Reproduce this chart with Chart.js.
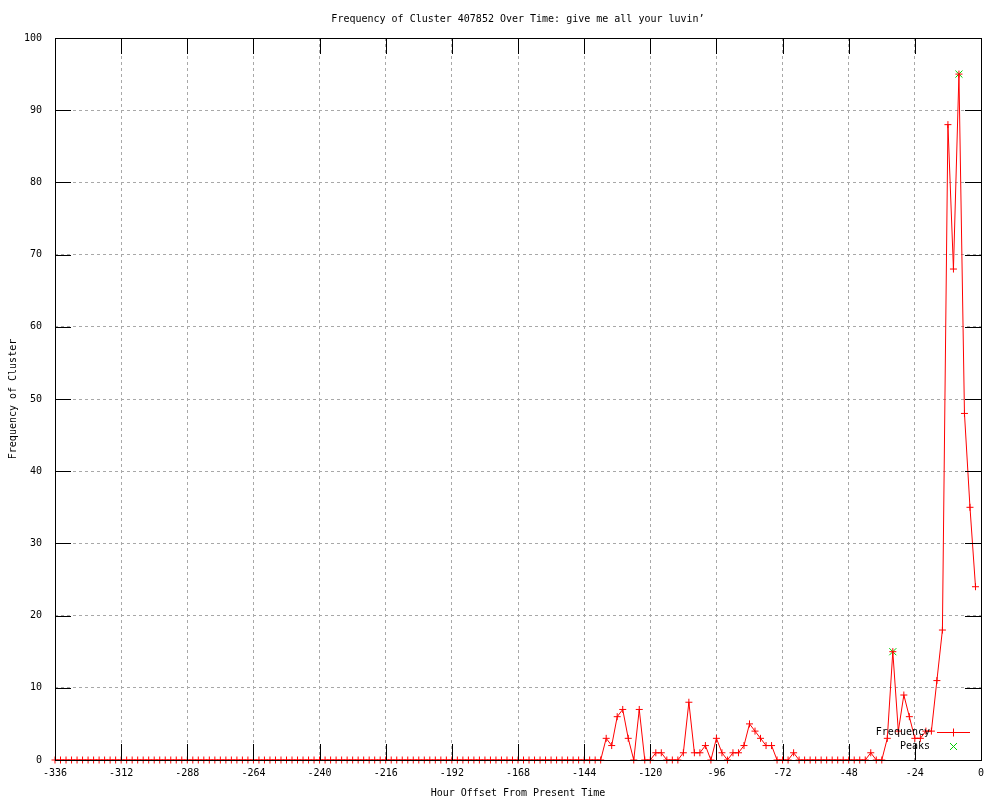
<!DOCTYPE html>
<html>
<head>
<meta charset="utf-8">
<title>Frequency of Cluster 407852</title>
<script src="https://cdn.jsdelivr.net/npm/chart.js@4/dist/chart.umd.min.js"></script>
<style>
  html, body { margin: 0; padding: 0; background: #fff; }
  canvas { display: block; }
</style>
</head>
<body>
<canvas id="myChart" width="1000" height="800"></canvas>
<script>
// hour offsets, one sample every 2 hours from -336 to -2
const hours = [];
for (let h = -336; h <= -2; h += 2) hours.push(h);

// frequency per sample, 12 values per 24 hours
const frequency = [
  0, 0, 0, 0, 0, 0, 0, 0, 0, 0, 0, 0,   // -336
  0, 0, 0, 0, 0, 0, 0, 0, 0, 0, 0, 0,   // -312
  0, 0, 0, 0, 0, 0, 0, 0, 0, 0, 0, 0,   // -288
  0, 0, 0, 0, 0, 0, 0, 0, 0, 0, 0, 0,   // -264
  0, 0, 0, 0, 0, 0, 0, 0, 0, 0, 0, 0,   // -240
  0, 0, 0, 0, 0, 0, 0, 0, 0, 0, 0, 0,   // -216
  0, 0, 0, 0, 0, 0, 0, 0, 0, 0, 0, 0,   // -192
  0, 0, 0, 0, 0, 0, 0, 0, 0, 0, 0, 0,   // -168
  0, 0, 0, 0, 3, 2, 6, 7, 3, 0, 7, 0,   // -144
  0, 1, 1, 0, 0, 0, 1, 8, 1, 1, 2, 0,   // -120
  3, 1, 0, 1, 1, 2, 5, 4, 3, 2, 2, 0,   // -96
  0, 0, 1, 0, 0, 0, 0, 0, 0, 0, 0, 0,   // -72
  0, 0, 0, 0, 1, 0, 0, 3, 15, 4, 9, 6,  // -48
  3, 3, 4, 4, 11, 18, 88, 68, 95, 48, 35, 24 // -24
];

const peakHours = [-32, -8];
const peakValues = [15, 95];

const xTicks = [-336, -312, -288, -264, -240, -216, -192, -168, -144, -120, -96, -72, -48, -24, 0];
const yTicks = [0, 10, 20, 30, 40, 50, 60, 70, 80, 90, 100];

const FONT = "'DejaVu Sans Mono', 'Liberation Mono', monospace";
const RED = '#ff0000';
const GREEN = '#00d000';

// gnuplot style frame: border box, inward ticks on all sides, legend inside
const frame = {
  id: 'frame',
  afterDatasetsDraw(chart) {
    const { ctx, chartArea: a, scales: { x, y } } = chart;
    const tl = 16;
    ctx.save();
    ctx.strokeStyle = '#000';
    ctx.lineWidth = 1;
    ctx.beginPath();
    xTicks.forEach(v => {
      const px = Math.round(x.getPixelForValue(v)) + 0.5;
      ctx.moveTo(px, a.bottom); ctx.lineTo(px, a.bottom - tl);
      ctx.moveTo(px, a.top); ctx.lineTo(px, a.top + tl);
    });
    yTicks.forEach(v => {
      const py = Math.round(y.getPixelForValue(v)) + 0.5;
      ctx.moveTo(a.left, py); ctx.lineTo(a.left + tl, py);
      ctx.moveTo(a.right, py); ctx.lineTo(a.right - tl, py);
    });
    ctx.stroke();
    ctx.strokeRect(Math.round(a.left) + 0.5, Math.round(a.top) + 0.5,
      Math.round(a.right - a.left), Math.round(a.bottom - a.top));

    // legend
    ctx.font = '10px ' + FONT;
    ctx.fillStyle = '#000';
    ctx.textAlign = 'right';
    ctx.textBaseline = 'middle';
    const tx = a.right - 51, sx0 = a.right - 44, sx1 = a.right - 11, mx = a.right - 28;
    const r1 = a.bottom - 28, r2 = a.bottom - 14;
    ctx.fillText('Frequency', tx, r1);
    ctx.fillText('Peaks', tx, r2);
    ctx.strokeStyle = RED;
    ctx.beginPath();
    ctx.moveTo(sx0, r1 + 0.5); ctx.lineTo(sx1, r1 + 0.5);
    ctx.moveTo(mx + 0.5, r1 - 3.5); ctx.lineTo(mx + 0.5, r1 + 4.5);
    ctx.stroke();
    ctx.strokeStyle = GREEN;
    ctx.beginPath();
    ctx.moveTo(mx - 3, r2 - 3); ctx.lineTo(mx + 4, r2 + 4);
    ctx.moveTo(mx + 4, r2 - 3); ctx.lineTo(mx - 3, r2 + 4);
    ctx.stroke();
    ctx.restore();
  }
};

const data = {
  datasets: [
    {
      label: 'Frequency',
      data: hours.map((h, i) => ({ x: h, y: frequency[i] })),
      borderColor: RED,
      backgroundColor: RED,
      borderWidth: 1,
      pointStyle: 'cross',
      pointRadius: 3.5,
      pointBorderWidth: 1,
      pointBorderColor: RED,
      tension: 0,
      clip: false,
    },
    {
      label: 'Peaks',
      data: peakHours.map((h, i) => ({ x: h, y: peakValues[i] })),
      showLine: false,
      borderColor: GREEN,
      backgroundColor: GREEN,
      pointStyle: 'crossRot',
      pointRadius: 5,
      pointBorderWidth: 1,
      pointBorderColor: GREEN,
      clip: false,
    },
  ],
};

const config = {
  type: 'line',
  data: data,
  options: {
    responsive: false,
    animation: false,
    devicePixelRatio: 1,
    layout: { padding: { left: 0, right: 19, top: 0, bottom: 0 } },
    scales: {
      x: {
        type: 'linear',
        min: -336,
        max: 0,
        afterBuildTicks: (s) => { s.ticks = xTicks.map(v => ({ value: v })); },
        afterFit: (s) => { s.height = 40; },
        ticks: {
          autoSkip: false,
          maxRotation: 0,
          padding: 7,
          color: '#000',
          font: { family: FONT, size: 10 },
        },
        grid: { color: '#a8a8a8', lineWidth: 1, drawTicks: false },
        border: { display: false, dash: [3, 3] },
        title: {
          display: true,
          text: 'Hour Offset From Present Time',
          color: '#000',
          font: { family: FONT, size: 10 },
          padding: { top: 0, bottom: 1 },
        },
      },
      y: {
        min: 0,
        max: 100,
        afterBuildTicks: (s) => { s.ticks = yTicks.map(v => ({ value: v })); },
        afterFit: (s) => { s.width = 55; },
        ticks: {
          padding: 13,
          color: '#000',
          font: { family: FONT, size: 10 },
        },
        grid: { color: '#a8a8a8', lineWidth: 1, drawTicks: false },
        border: { display: false, dash: [3, 3] },
        title: {
          display: true,
          text: 'Frequency of Cluster',
          color: '#000',
          font: { family: FONT, size: 10 },
          padding: { top: 7, bottom: 0 },
        },
      },
    },
    plugins: {
      legend: { display: false },
      tooltip: { enabled: false },
      title: {
        display: true,
        fullSize: false,
        text: 'Frequency of Cluster 407852 Over Time: give me all your luvin\u2019',
        color: '#000',
        font: { family: FONT, size: 10, weight: 'normal' },
        padding: { top: 13, bottom: 13 },
      },
    },
  },
  plugins: [frame],
};

const myChart = new Chart(document.getElementById('myChart'), config);
</script>
</body>
</html>
